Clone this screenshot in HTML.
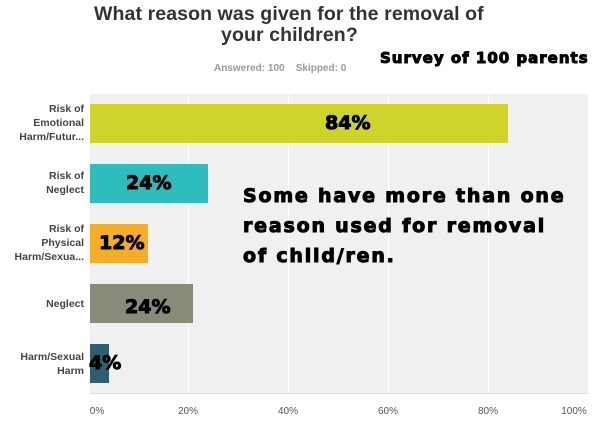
<!DOCTYPE html>
<html><head><style>
body{margin:0;width:610px;height:426px;background:#fff;position:relative;overflow:hidden;font-family:"Liberation Sans",sans-serif}
div{position:absolute}
.t{color:#333;font-weight:bold;font-size:19.5px;white-space:nowrap;letter-spacing:0.1px}
.lab{right:526px;text-align:right;font-size:10.5px;font-weight:bold;color:#444;line-height:14px;width:90px}
.bar{left:90px;height:39px}
.big{font-family:"DejaVu Sans",sans-serif;font-weight:bold;color:#000;-webkit-text-stroke:1px #000;white-space:nowrap}
.tick{top:406px;font-size:10px;color:#555;width:40px;text-align:center}
.g{top:94px;width:1px;height:299px;background:#fff}
</style></head><body>
<div class="t" style="left:94px;top:3px">What reason was given for the removal of</div>
<div class="t" style="left:221px;top:24px">your children?</div>
<div style="left:214px;top:63px;font-size:10px;font-weight:bold;color:#999">Answered: 100&nbsp;&nbsp;&nbsp; Skipped: 0</div>
<div class="big" style="left:380px;top:49px;font-size:15px;letter-spacing:1px">Survey of 100 parents</div>
<div style="left:90px;top:94px;width:498px;height:299px;background:#f0f0f0;border-bottom:1px solid #ddd"></div>
<div class="g" style="left:188px"></div><div class="g" style="left:288px"></div><div class="g" style="left:388px"></div><div class="g" style="left:488px"></div>
<div class="bar" style="top:104px;width:418px;background:#cfd42a"></div>
<div class="bar" style="top:164px;width:118px;background:#2fbcbf"></div>
<div class="bar" style="top:224px;width:58px;background:#f6ad28"></div>
<div class="bar" style="top:284px;width:103px;background:#8a8a7a"></div>
<div class="bar" style="top:344px;width:19px;background:#2f5e70"></div>
<div class="lab" style="top:102px">Risk of<br>Emotional<br>Harm/Futur...</div>
<div class="lab" style="top:169px">Risk of<br>Neglect</div>
<div class="lab" style="top:222px">Risk of<br>Physical<br>Harm/Sexua...</div>
<div class="lab" style="top:297px">Neglect</div>
<div class="lab" style="top:350px">Harm/Sexual<br>Harm</div>
<div class="big" style="left:325px;top:112px;font-size:19px">84%</div>
<div class="big" style="left:126px;top:172px;font-size:19px">24%</div>
<div class="big" style="left:99px;top:232px;font-size:19px">12%</div>
<div class="big" style="left:125px;top:296px;font-size:19px">24%</div>
<div class="big" style="left:89px;top:352px;font-size:19px">4%</div>
<div class="big" style="left:243px;top:181px;font-size:19px;line-height:30px;letter-spacing:1.8px">Some have more than one<br>reason used for removal<br>of child/ren.</div>
<div class="tick" style="left:77px">0%</div>
<div class="tick" style="left:168px">20%</div>
<div class="tick" style="left:268px">40%</div>
<div class="tick" style="left:368px">60%</div>
<div class="tick" style="left:468px">80%</div>
<div class="tick" style="left:554px">100%</div>
</body></html>
